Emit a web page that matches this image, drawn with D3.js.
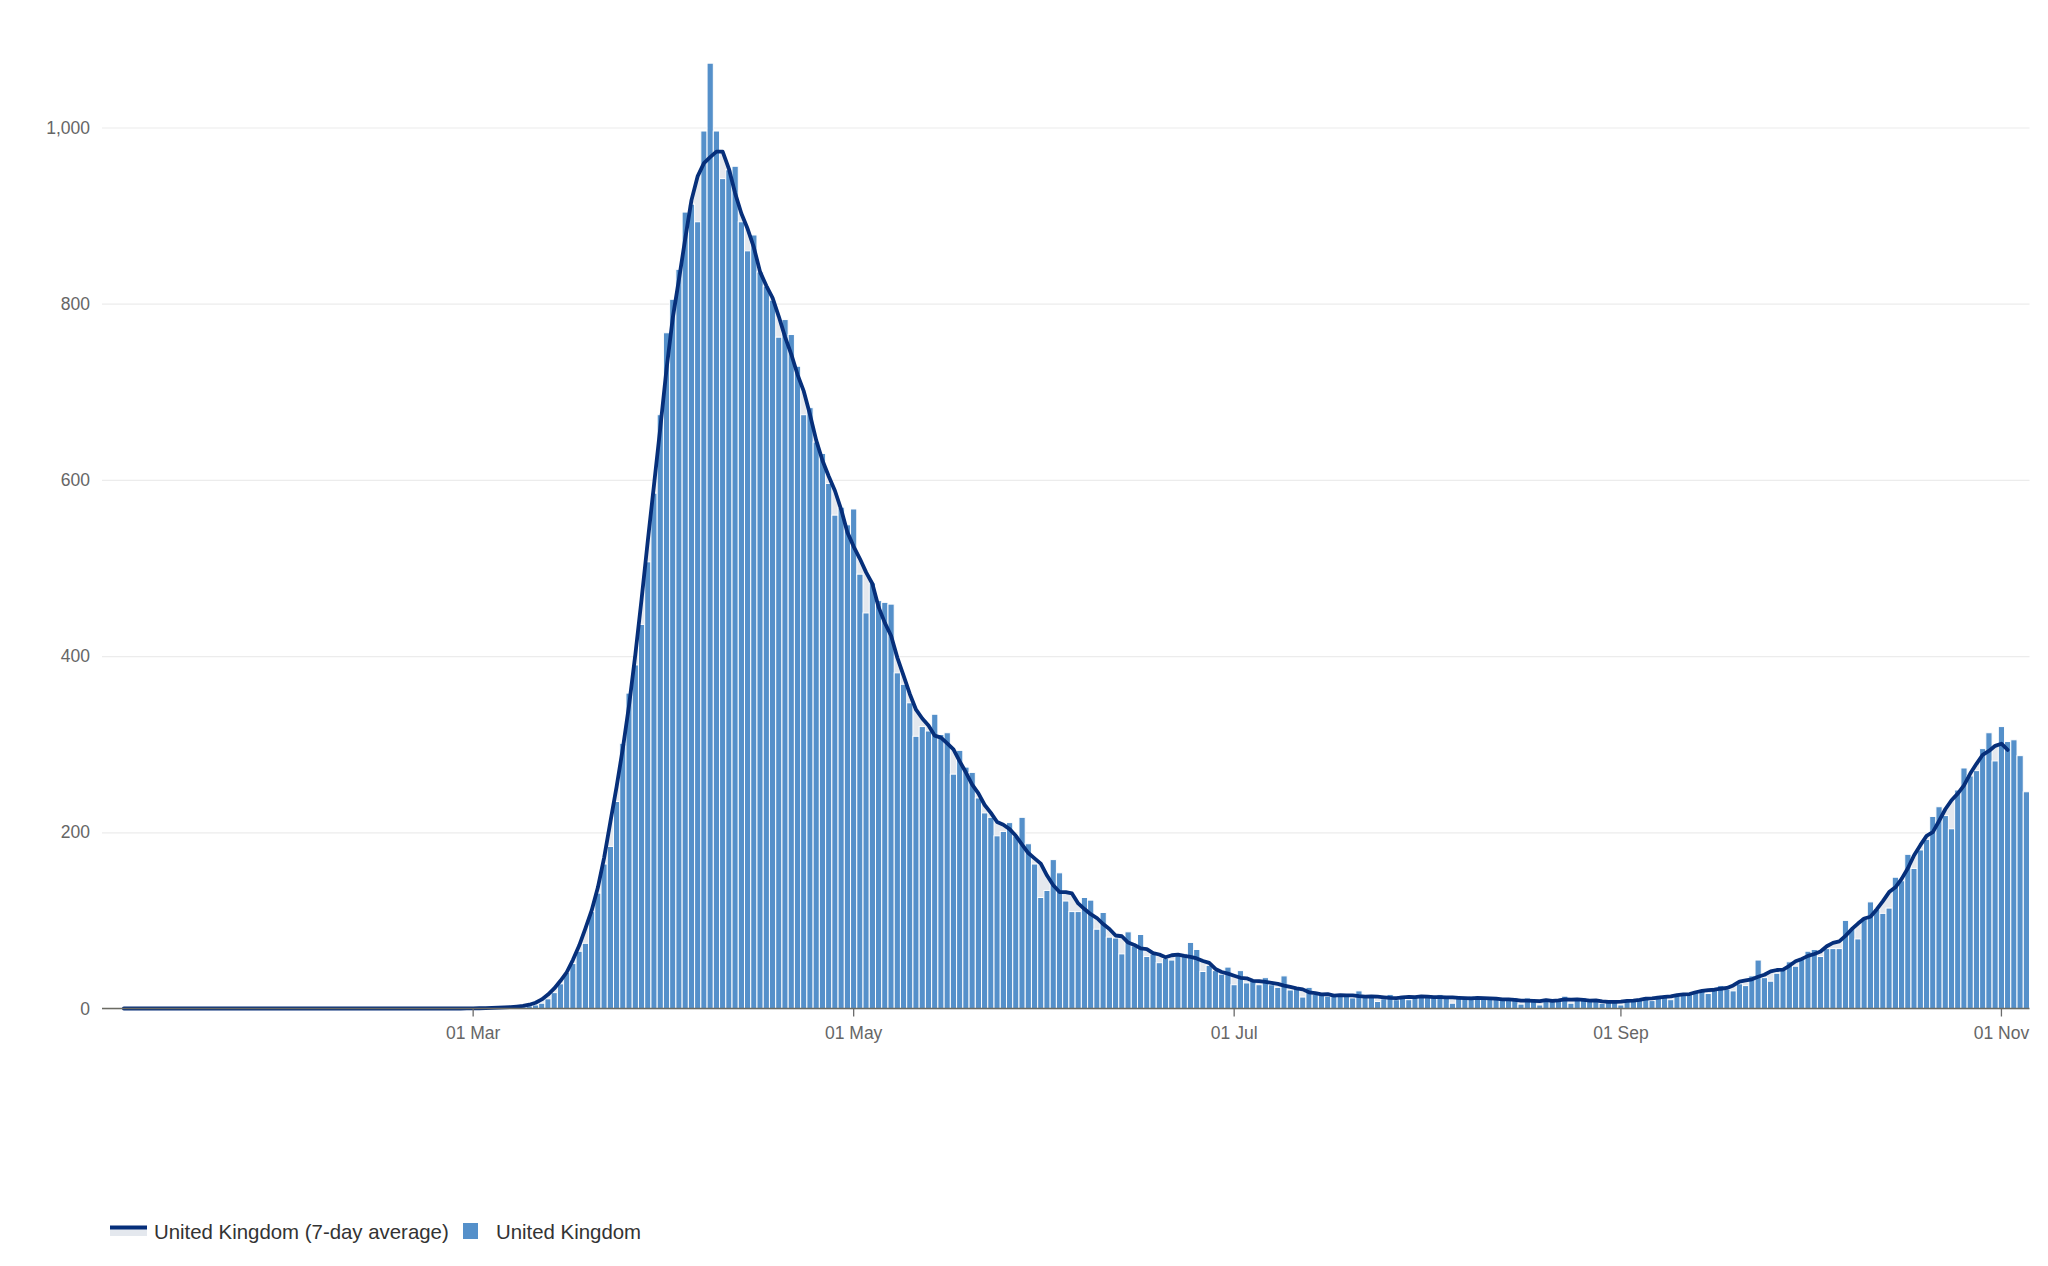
<!DOCTYPE html>
<html>
<head>
<meta charset="utf-8">
<script src="https://cdn.jsdelivr.net/npm/d3@7"></script>
<style>
  html, body { margin: 0; padding: 0; background: #ffffff; }
  svg { display: block; font-family: "Liberation Sans", Arial, Helvetica, sans-serif; }
</style>
</head>
<body>
<svg id="chart" width="2048" height="1266"></svg>
<script>
// ---------------- DATA (daily deaths, United Kingdom, 2020) ----------------
const janDeaths = [0,0,0,0,0,0,0,0,0,0,0,0,0,0,0,0,0,0,0,0,0,0,0,0,0,0,0,0,0,0]; // 2–31 Jan
const febDeaths = [0,0,0,0,0,0,0,0,0,0,0,0,0,0,0,0,0,0,0,0,0,0,0,0,0,0,0,0,0];   // 1–29 Feb
const marDeaths = [0,0,1,0,1,1,2,2,2,3,4,6,11,18,28,41,51,65,74,110,131,164,184,235,301,358,390,436,507,585,674];
const aprDeaths = [767,805,839,904,913,893,996,1073,996,942,952,956,893,860,878,836,820,804,762,782,765,729,674,682,643,630,596,560,569,549];
const mayDeaths = [567,493,449,483,463,461,459,381,368,347,309,320,315,334,311,313,266,293,274,268,239,222,217,196,201,211,196,217,187,164,126];
const junDeaths = [134,169,154,122,110,110,126,123,90,109,81,80,62,87,71,84,59,62,52,57,55,60,62,75,67,42,49,43,39,47];
const julDeaths = [27,43,29,32,27,35,27,24,37,21,25,13,24,16,16,14,15,15,14,12,20,14,15,8,11,16,10,15,10,13,14];
const augDeaths = [14,14,16,14,6,12,12,14,11,13,12,11,10,10,12,5,12,9,4,11,8,9,14,6,12,12,9,10,6,8,8];
const sepDeaths = [4,8,9,11,13,9,15,14,10,15,16,17,20,20,17,24,26,22,20,28,26,37,55,35,31,40,44,53,48,58];
const octDeaths = [65,67,59,68,68,68,100,91,79,103,121,113,108,114,149,145,175,159,180,192,218,229,219,204,248,273,264,270,295,313,281];
const novDeaths = [320,303,305,287,246];

// first date of each monthly block
const monthStarts = ["2020-01-02","2020-02-01","2020-03-01","2020-04-01","2020-05-01","2020-06-01",
                     "2020-07-01","2020-08-01","2020-09-01","2020-10-01","2020-11-01"];
const monthBlocks = [janDeaths, febDeaths, marDeaths, aprDeaths, mayDeaths, junDeaths,
                     julDeaths, augDeaths, sepDeaths, octDeaths, novDeaths];

const xTickDates = ["2020-03-01","2020-05-01","2020-07-01","2020-09-01","2020-11-01"];
const xTickLabels = ["01 Mar","01 May","01 Jul","01 Sep","01 Nov"];
const yTicks = [0, 200, 400, 600, 800, 1000];
const seriesNames = ["United Kingdom (7-day average)", "United Kingdom"];

// ---------------- BUILD TABLE ----------------
const parse = d3.utcParse("%Y-%m-%d");
const fmt = d3.utcFormat("%Y-%m-%d");
const data = [];
monthBlocks.forEach((vals, m) => {
  const s = parse(monthStarts[m]);
  vals.forEach((v, i) => data.push({ date: fmt(d3.utcDay.offset(s, i)), value: v }));
});
// centred 7-day average
const avg = [];
for (let i = 3; i < data.length - 3; i++) {
  avg.push({ date: data[i].date, value: d3.mean(data.slice(i - 3, i + 4), d => d.value) });
}

// ---------------- STYLE ----------------
const barColor = "#5590ca";
const lineColor = "#062f7a";
const areaColor = "#e4e8ee";
const gridColor = "#ececec";
const axisText = "#666666";

const svg = d3.select("#chart");
const plot = { left: 102, right: 2029.5, top: 127.5, bottom: 1008.5 };

const x = d3.scaleBand().domain(data.map(d => d.date)).range([plot.left, plot.right]).padding(0);
const y = d3.scaleLinear().domain([0, 1000]).range([plot.bottom, plot.top]);
const cx = d => x(d) + x.bandwidth() / 2;

// gridlines + y labels
const yAxis = d3.axisLeft(y).tickValues(yTicks).tickSize(-(plot.right - plot.left)).tickPadding(12)
  .tickFormat(d3.format(","));
const gy = svg.append("g").attr("transform", `translate(${plot.left},0)`).call(yAxis);
gy.select(".domain").remove();
gy.selectAll(".tick line").attr("stroke", gridColor).attr("stroke-width", 1.2);
gy.selectAll(".tick text").attr("fill", axisText).attr("font-size", 17.5)
  .attr("font-family", "Liberation Sans, Arial, sans-serif");

// average area (light fill)
svg.append("path").datum(avg)
  .attr("fill", areaColor)
  .attr("d", d3.area().x(d => cx(d.date)).y0(y(0)).y1(d => y(d.value)));

// bars
svg.append("g").selectAll("rect").data(data).join("rect")
  .attr("x", d => x(d.date))
  .attr("width", x.bandwidth())
  .attr("y", d => y(d.value))
  .attr("height", d => y(0) - y(d.value))
  .attr("fill", barColor)
  .attr("stroke", "#ffffff")
  .attr("stroke-width", 1);

// average line
svg.append("path").datum(avg)
  .attr("fill", "none")
  .attr("stroke", lineColor)
  .attr("stroke-width", 3.8)
  .attr("stroke-linejoin", "round")
  .attr("stroke-linecap", "round")
  .attr("d", d3.line().x(d => cx(d.date)).y(d => y(d.value)));

// x axis
const xAxis = d3.axisBottom(x).tickValues(xTickDates).tickSize(8).tickPadding(10)
  .tickFormat(d => xTickLabels[xTickDates.indexOf(d)]);
const gx = svg.append("g").attr("transform", `translate(0,${plot.bottom})`).call(xAxis);
gx.select(".domain").attr("stroke", "#6b6b63").attr("stroke-width", 1.3)
  .attr("d", `M${plot.left},0H${plot.right}`);
gx.selectAll(".tick line").attr("stroke", "#6b6b6b").attr("stroke-width", 1.3);
gx.selectAll(".tick text").attr("fill", axisText).attr("font-size", 17.5)
  .attr("font-family", "Liberation Sans, Arial, sans-serif");

// legend
const lg = svg.append("g");
lg.append("rect").attr("x", 110).attr("y", 1228).attr("width", 37).attr("height", 8).attr("fill", areaColor);
lg.append("line").attr("x1", 110).attr("x2", 147).attr("y1", 1227.5).attr("y2", 1227.5)
  .attr("stroke", lineColor).attr("stroke-width", 3.8);
lg.append("text").attr("x", 154).attr("y", 1239).attr("font-size", 20.4).attr("fill", "#333333")
  .text(seriesNames[0]);
lg.append("rect").attr("x", 463).attr("y", 1223).attr("width", 15).attr("height", 16).attr("fill", barColor);
lg.append("text").attr("x", 496).attr("y", 1239).attr("font-size", 20.4).attr("fill", "#333333")
  .text(seriesNames[1]);
</script>
</body>
</html>
